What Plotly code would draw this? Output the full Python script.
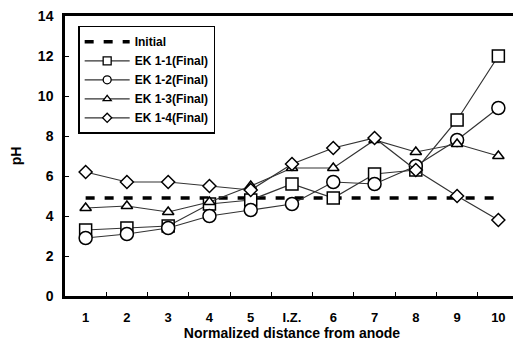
import plotly.graph_objects as go

categories = ["1", "2", "3", "4", "5", "I.Z.", "6", "7", "8", "9", "10"]
initial = [4.9, 4.9, 4.9, 4.9, 4.9, 4.9, 4.9, 4.9, 4.9, 4.9, 4.9]
ek_1_1 = [3.3, 3.4, 3.5, 4.6, 4.8, 5.6, 4.9, 6.1, 6.3, 8.8, 12.0]
ek_1_2 = [2.9, 3.1, 3.4, 4.0, 4.3, 4.6, 5.7, 5.6, 6.5, 7.8, 9.4]
ek_1_3 = [4.4, 4.5, 4.2, 4.7, 5.5, 6.4, 6.4, 7.8, 7.2, 7.6, 7.0]
ek_1_4 = [6.2, 5.7, 5.7, 5.5, 5.3, 6.6, 7.4, 7.9, 6.3, 5.0, 3.8]
y_ticks = [0, 2, 4, 6, 8, 10, 12, 14]

FONT = "Liberation Sans"
LINE_COL = "#333333"

fig = go.Figure()
fig.add_trace(go.Scatter(
    x=categories, y=initial, name="Initial", mode="lines",
    line=dict(color="black", width=3.5, dash="9px,10px"),
))
series = [
    ("EK 1-1(Final)", ek_1_1, "square", 12, 8),
    ("EK 1-2(Final)", ek_1_2, "circle", 13, 8),
    ("EK 1-3(Final)", ek_1_3, "triangle-up", 10, 7),
    ("EK 1-4(Final)", ek_1_4, "diamond", 10, 7),
]
for name, vals, sym, sz, lsz in series:
    fig.add_trace(go.Scatter(
        x=categories, y=vals, name=name, mode="lines+markers",
        showlegend=False, legendgroup=name,
        line=dict(color=LINE_COL, width=1.2),
        marker=dict(symbol=sym, size=sz, color="white",
                    line=dict(color="black", width=1.5)),
    ))
    # legend-only entry with smaller marker, as in the original key
    fig.add_trace(go.Scatter(
        x=[None], y=[None], name=name, mode="lines+markers",
        legendgroup=name, showlegend=True,
        line=dict(color=LINE_COL, width=1.2),
        marker=dict(symbol=sym, size=lsz, color="white",
                    line=dict(color="black", width=1.3)),
    ))

# the page body adds an 8px offset, so the figure is sized to compensate
fig.update_layout(
    width=513, height=345,
    margin=dict(l=57, r=2, t=8, b=57, autoexpand=False),
    paper_bgcolor="white", plot_bgcolor="white",
    font=dict(family=FONT, size=13, color="black", weight="bold"),
    showlegend=True,
    legend=dict(
        x=0.029, y=0.965, xanchor="left", yanchor="top",
        bordercolor="black", borderwidth=1.5, bgcolor="white",
        font=dict(family=FONT, size=12, color="black", weight="bold"),
        itemwidth=45, tracegroupgap=0,
    ),
    xaxis=dict(
        type="category", categoryorder="array", categoryarray=categories,
        range=[-0.5, 10.5], automargin=False,
        showline=True, linecolor="black", linewidth=2.5, mirror=True,
        ticks="inside", tickson="boundaries", ticklen=4, tickcolor="black",
        showgrid=False, zeroline=False,
        ticklabelstandoff=8,
        tickfont=dict(family=FONT, size=13, weight="bold"),
        title=dict(text="Normalized distance from anode", standoff=4,
                   font=dict(family=FONT, size=14, weight="bold")),
    ),
    yaxis=dict(
        range=[0, 14], tickvals=y_ticks, automargin=False,
        showline=True, linecolor="black", linewidth=2.5, mirror=True,
        ticks="inside", ticklen=4, tickcolor="black",
        showgrid=False, zeroline=False,
        ticklabelstandoff=6, ticklabeloverflow="allow",
        tickfont=dict(family=FONT, size=14, weight="bold"),
        title=dict(text="pH", standoff=14,
                   font=dict(family=FONT, size=14, weight="bold")),
    ),
)

fig.write_html("out.html")
